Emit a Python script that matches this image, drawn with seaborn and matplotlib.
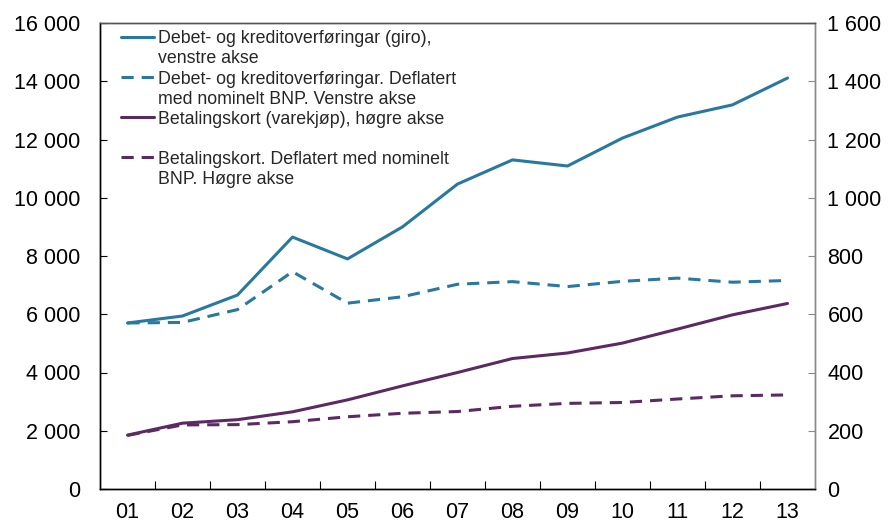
import matplotlib
matplotlib.use("Agg")
import matplotlib.pyplot as plt
import seaborn as sns
import pandas as pd
from matplotlib.lines import Line2D
from matplotlib.ticker import FuncFormatter, FixedLocator

sns.set_theme(style="white")
plt.rcParams['font.family'] = ['Liberation Sans', 'DejaVu Sans']

years = ["01", "02", "03", "04", "05", "06", "07", "08", "09", "10", "11", "12", "13"]
giro = [5700, 5940, 6660, 8650, 7900, 9000, 10470, 11300, 11090, 12050, 12770, 13190, 14110]
giro_defl = [5700, 5720, 6160, 7460, 6380, 6600, 7030, 7120, 6950, 7130, 7240, 7100, 7160]
kort = [185, 226, 238, 265, 306, 354, 400, 448, 467, 501, 549, 598, 637]
kort_defl = [184, 220, 221, 231, 248, 260, 266, 284, 294, 297, 309, 320, 323]

labels = [
    "Debet- og kreditoverføringar (giro),\nvenstre akse",
    "Debet- og kreditoverføringar. Deflatert\nmed nominelt BNP. Venstre akse",
    "Betalingskort (varekjøp), høgre akse\n ",
    "Betalingskort. Deflatert med nominelt\nBNP. Høgre akse",
]

BLUE = "#2878a0"
PURPLE = "#5c2a62"
DASH = (4.0, 2.6)
LW = 2.2
TICKSIZE = 15.5

df = pd.DataFrame({"x": range(len(years)), "giro": giro, "giro_defl": giro_defl,
                   "kort": kort, "kort_defl": kort_defl})

fig = plt.figure(figsize=(8.95, 5.29), dpi=100)
ax = fig.add_axes([100/895, 1-489/529, 715/895, 466/529])
ax2 = ax.twinx()

sns.lineplot(data=df, x="x", y="giro", ax=ax, color=BLUE, lw=LW)
sns.lineplot(data=df, x="x", y="giro_defl", ax=ax, color=BLUE, lw=LW)
ax.lines[-1].set_dashes(DASH)
sns.lineplot(data=df, x="x", y="kort", ax=ax2, color=PURPLE, lw=LW)
sns.lineplot(data=df, x="x", y="kort_defl", ax=ax2, color=PURPLE, lw=LW)
ax2.lines[-1].set_dashes(DASH)

ax.set_xlim(-0.5, len(years) - 0.5)
ax.set_ylim(0, 16000)
ax2.set_ylim(0, 1600)
ax.set_xlabel("")
ax.set_ylabel("")
ax2.set_ylabel("")

fmt = FuncFormatter(lambda v, p: f"{v:,.0f}".replace(",", " "))
ax.yaxis.set_major_locator(FixedLocator(range(0, 16001, 2000)))
ax2.yaxis.set_major_locator(FixedLocator(range(0, 1601, 200)))
ax.yaxis.set_major_formatter(fmt)
ax2.yaxis.set_major_formatter(fmt)

ax.set_xticks(range(len(years)))
ax.set_xticklabels(years)
ax.set_xticks([i + 0.5 for i in range(len(years) - 1)], minor=True)

ax.tick_params(axis="x", which="major", length=0, pad=9, labelsize=TICKSIZE, colors="black")
ax.tick_params(axis="x", which="minor", direction="in", length=6, width=0.8, color="black", bottom=True)
ax.tick_params(axis="y", direction="in", length=5, width=0.8, pad=14, labelsize=TICKSIZE, colors="black", left=True)
ax2.tick_params(axis="y", direction="in", length=5, width=0.8, pad=9, labelsize=TICKSIZE,
                color="#888888", labelcolor="black", right=True)

for a in (ax, ax2):
    a.spines["left"].set_color("black")
    a.spines["bottom"].set_color("black")
    a.spines["top"].set_color("#555555")
    a.spines["right"].set_color("#888888")
    for s in a.spines.values():
        s.set_linewidth(1.0)
    a.grid(False)

# Legend: one row per text line, handle only on first line of each entry
handles, texts = [], []
styles = [(BLUE, "-"), (BLUE, "--"), (PURPLE, "-"), (PURPLE, "--")]
for (c, ls), lab in zip(styles, labels):
    parts = lab.split("\n")
    h = Line2D([], [], color=c, lw=LW)
    if ls == "--":
        h.set_dashes(DASH)
    handles.append(h)
    texts.append(parts[0])
    for extra in parts[1:]:
        handles.append(Line2D([], [], color="none", lw=0))
        texts.append(extra)

leg = ax2.legend(handles, texts, loc="upper left", bbox_to_anchor=(0.03, 0.984),
                 frameon=False, fontsize=12.8, handlelength=1.85, handletextpad=0.2,
                 labelspacing=0.17, borderaxespad=0, borderpad=0)

fig.savefig("out.png", dpi=100)
